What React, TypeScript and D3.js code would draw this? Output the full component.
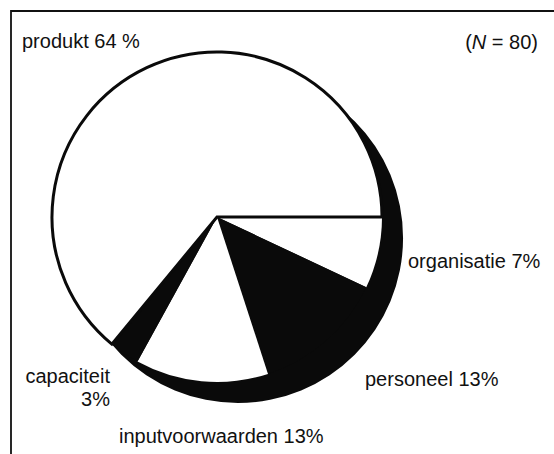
import * as d3 from "d3";

// slices clockwise from 3 o'clock
const categories = ["organisatie", "personeel", "inputvoorwaarden", "capaciteit", "produkt"];
const shares = [7, 13, 13, 3, 64];
const sampleSize = 80;

const W = 554;
const H = 454;
const cx = 217;
const cy = 217;
const R = 165;
const depth = 21; // offset of the dark "side" of the disc
const font = "'Liberation Sans', Arial, Helvetica, sans-serif";

const dark = new Set(["personeel", "capaciteit"]);

export default function App() {
  const pie = d3
    .pie<number>()
    .sort(null)
    .startAngle(Math.PI / 2)
    .endAngle(Math.PI / 2 + 2 * Math.PI);
  const arcs = pie(shares);
  const arc = d3.arc<d3.PieArcDatum<number>>().innerRadius(0).outerRadius(R);
  const disc = d3.arc()({ innerRadius: 0, outerRadius: R, startAngle: 0, endAngle: 2 * Math.PI } as any) as string;

  const label = (i: number) => `${categories[i]} ${shares[i]}%`;

  return (
    <svg width={W} height={H} style={{ position: "absolute", left: 0, top: 0, background: "#fff" }}>
      {/* frame */}
      <path d={`M11,${H} L11,11 L${W},11`} fill="none" stroke="#111" strokeWidth={1.8} />

      {/* dark side of the disc */}
      <path d={disc} transform={`translate(${cx + depth},${cy + depth})`} fill="#0a0a0a" />

      <g transform={`translate(${cx},${cy})`}>
        {arcs.map((a, i) => {
          const cat = categories[i];
          if (cat === "produkt") return null;
          return <path key={cat} d={arc(a) as string} fill={dark.has(cat) ? "#0a0a0a" : "#fff"} />;
        })}
        {arcs.map((a, i) =>
          categories[i] === "produkt" ? (
            <path key="produkt" d={arc(a) as string} fill="#fff" stroke="#0a0a0a" strokeWidth={3} strokeLinejoin="miter" />
          ) : null
        )}
      </g>

      <g fontFamily={font} fontSize={20} fill="#111">
        <text x={22} y={48}>{`${categories[4]} ${shares[4]} %`}</text>
        <text x={538} y={49} textAnchor="end">
          (<tspan fontStyle="italic">N</tspan> = {sampleSize})
        </text>
        <text x={408} y={268}>{label(0)}</text>
        <text x={365} y={386}>{label(1)}</text>
        <text x={110} y={383} textAnchor="end">{categories[3]}</text>
        <text x={110} y={406} textAnchor="end">{`${shares[3]}%`}</text>
        <text x={119} y={443}>{label(2)}</text>
      </g>
    </svg>
  );
}
